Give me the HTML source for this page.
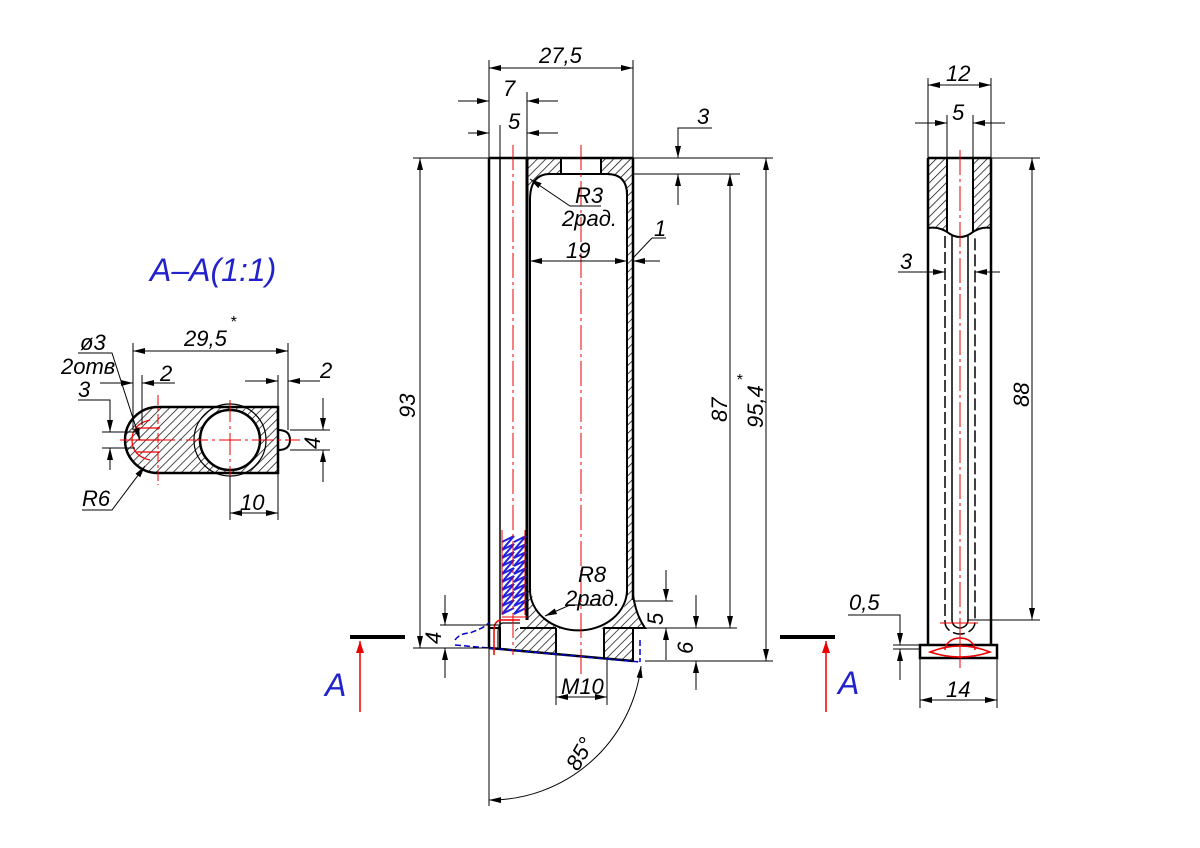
<!DOCTYPE html>
<html><head><meta charset="utf-8"><style>
html,body{margin:0;padding:0;background:#fff}
svg{display:block}
text{font-family:"Liberation Sans",sans-serif;font-style:italic;fill:#000}
</style></head><body>
<svg width="1200" height="848" viewBox="0 0 1200 848" xmlns="http://www.w3.org/2000/svg">
<defs>
<pattern id="h" patternUnits="userSpaceOnUse" width="6" height="6" patternTransform="rotate(45)">
<rect width="6" height="6" fill="#fff"/><line x1="0" y1="0" x2="0" y2="6" stroke="#000" stroke-width="1.4"/>
</pattern>
<marker id="a" markerWidth="12" markerHeight="6" refX="12" refY="3" orient="auto-start-reverse" markerUnits="userSpaceOnUse">
<path d="M0,0 L12,3 L0,6 z" fill="#000"/></marker>
<marker id="ar" markerWidth="12" markerHeight="8" refX="12" refY="4" orient="auto" markerUnits="userSpaceOnUse">
<path d="M0,0 L12,4 L0,8 z" fill="#e00"/></marker>
</defs>
<g stroke="#000" stroke-width="1" fill="none">

<!-- ========== MAIN VIEW ========== -->
<rect x="527" y="158" width="34" height="16" fill="url(#h)" stroke="none"/>
<rect x="601" y="158" width="32" height="16" fill="url(#h)" stroke="none"/>
<path d="M527,158 L527,200 Q530,176 545,174 L527,174z" fill="url(#h)" stroke="none"/>
<path d="M627,190 Q625,176 612,174 L633,174 L633,190z" fill="url(#h)" stroke="none"/>
<rect x="627" y="174" width="6" height="420" fill="url(#h)" stroke="none"/>
<!-- bottom block -->
<path d="M515,628 L556,628 L556,654 L515,650 z" fill="url(#h)" stroke="none"/>
<path d="M604,628 L633,628 L633,661 L604,658 z" fill="url(#h)" stroke="none"/>
<path d="M527,588 L531,588 L534,605 L541,617 L552,625 L566,629 L527,629 z" fill="url(#h)" stroke="none"/>
<path d="M627,590 L633,592 Q636,615 645,628 L596,629 L610,625 L620,617 L625,605 z" fill="url(#h)" stroke="none"/>

<line x1="489" y1="158" x2="489" y2="648" stroke-width="2.5"/>
<line x1="500" y1="158" x2="500" y2="628" stroke-width="1.5"/>
<line x1="527" y1="158" x2="527" y2="620" stroke-width="3"/>
<line x1="489" y1="158" x2="633" y2="158" stroke-width="2.5"/>
<line x1="633" y1="158" x2="633" y2="600" stroke-width="2.5"/>
<line x1="627" y1="190" x2="627" y2="595" stroke-width="2"/>
<path d="M530,200 Q530,174 550,174 L607,174 Q627,174 627,195" stroke-width="2"/>
<path d="M530,200 L530,590 A48,40 0 0 0 627,590" stroke-width="2"/>
<line x1="561" y1="158" x2="561" y2="174" stroke-width="2"/>
<line x1="601" y1="158" x2="601" y2="174" stroke-width="2"/>
<path d="M633,595 Q636,615 645,628 L604,628" stroke-width="2"/>
<line x1="520" y1="628" x2="556" y2="628" stroke-width="2"/>
<line x1="556" y1="628" x2="556" y2="655" stroke-width="2"/>
<line x1="604" y1="628" x2="604" y2="658" stroke-width="2"/>
<line x1="633" y1="628" x2="633" y2="662" stroke-width="2"/>
<line x1="489" y1="648" x2="633" y2="661" stroke-width="2.5"/>
<path d="M489,628 L500,628 L500,648" stroke-width="2"/>
<path d="M455,640 Q460,633 470,633 L482,628 L489,623" stroke="#00c" stroke-width="1.5" stroke-dasharray="6,3"/>
<line x1="455" y1="645" x2="489" y2="648" stroke="#00c" stroke-width="1.5" stroke-dasharray="6,3"/>
<line x1="489" y1="648" x2="640" y2="662" stroke="#00c" stroke-width="1.5" stroke-dasharray="6,3"/>
<line x1="640" y1="640" x2="640" y2="662" stroke="#00c" stroke-width="1.5" stroke-dasharray="6,3"/>
<!-- spring -->
<rect x="502" y="535" width="23" height="82" fill="#fff" stroke="none"/>
<path d="M502,542 L514,536 L502,550 L514,544 L502,558 L514,552 L502,566 L514,560 L502,574 L514,568 L502,582 L514,576 L502,590 L514,584 L502,598 L514,592 L502,606 L514,600 L502,614 L514,608" stroke="#22d" stroke-width="2"/>
<path d="M514,542 L526,536 L514,550 L526,544 L514,558 L526,552 L514,566 L526,560 L514,574 L526,568 L514,582 L526,576 L514,590 L526,584 L514,598 L526,592 L514,606 L526,600 L514,614 L526,608" stroke="#22d" stroke-width="2"/>
<line x1="502" y1="530" x2="502" y2="615" stroke="#e00" stroke-width="1"/>
<line x1="525" y1="530" x2="525" y2="615" stroke="#e00" stroke-width="1"/>
<line x1="502" y1="617" x2="527" y2="617" stroke="#e00"/>
<path d="M520,620 L500,620 Q494,622 494,630 L494,655" stroke="#e00" stroke-width="1.5"/>
<path d="M520,623 L502,623 Q498,625 498,632 L498,650" stroke="#000" stroke-width="1.2"/>
<line x1="513" y1="145" x2="513" y2="655" stroke="#e00" stroke-dasharray="25,4,3,4"/>
<line x1="581" y1="145" x2="581" y2="675" stroke="#e00" stroke-dasharray="25,4,3,4"/>

<line x1="489" y1="60" x2="489" y2="158"/>
<line x1="633" y1="60" x2="633" y2="158"/>
<line x1="489" y1="68" x2="633" y2="68" marker-start="url(#a)" marker-end="url(#a)"/>
<line x1="527" y1="92" x2="527" y2="158"/>
<line x1="458" y1="101" x2="489" y2="101" marker-end="url(#a)"/>
<line x1="558" y1="101" x2="527" y2="101" marker-end="url(#a)"/>
<line x1="500" y1="125" x2="500" y2="158"/>
<line x1="468" y1="133" x2="489" y2="133" marker-end="url(#a)"/>
<line x1="558" y1="133" x2="527" y2="133" marker-end="url(#a)"/>
<line x1="413" y1="158" x2="773" y2="158"/>
<line x1="633" y1="174" x2="740" y2="174"/>
<path d="M712,128 L678,128 L678,158" marker-end="url(#a)"/>
<line x1="678" y1="205" x2="678" y2="174" marker-end="url(#a)"/>
<line x1="420" y1="158" x2="420" y2="648" marker-start="url(#a)" marker-end="url(#a)"/>
<line x1="413" y1="648" x2="489" y2="648"/>
<line x1="730" y1="174" x2="730" y2="628" marker-start="url(#a)" marker-end="url(#a)"/>
<line x1="645" y1="628" x2="737" y2="628"/>
<line x1="766" y1="158" x2="766" y2="661" marker-start="url(#a)" marker-end="url(#a)"/>
<line x1="645" y1="661" x2="773" y2="661"/>
<line x1="530" y1="261" x2="627" y2="261" marker-start="url(#a)" marker-end="url(#a)"/>
<line x1="660" y1="261" x2="633" y2="261" marker-end="url(#a)"/>
<line x1="633" y1="258" x2="652" y2="238"/><line x1="652" y1="238" x2="666" y2="238"/>
<path d="M601,206 L570,206 L530,179" marker-end="url(#a)"/>
<path d="M602,605 L570,605 L545,616" marker-end="url(#a)"/>
<line x1="633" y1="601" x2="673" y2="601"/>
<line x1="666" y1="570" x2="666" y2="601" marker-end="url(#a)"/>
<line x1="666" y1="660" x2="666" y2="628" marker-end="url(#a)"/>
<line x1="696" y1="595" x2="696" y2="628" marker-end="url(#a)"/>
<line x1="696" y1="690" x2="696" y2="661" marker-end="url(#a)"/>
<line x1="440" y1="625" x2="500" y2="625"/>
<line x1="445" y1="595" x2="445" y2="625" marker-end="url(#a)"/>
<line x1="445" y1="678" x2="445" y2="648" marker-end="url(#a)"/>
<line x1="556" y1="655" x2="556" y2="705"/>
<line x1="607" y1="660" x2="607" y2="705"/>
<line x1="556" y1="697" x2="607" y2="697" marker-start="url(#a)" marker-end="url(#a)"/>
<line x1="489" y1="648" x2="489" y2="806"/>
<path d="M641,666 A152,152 0 0 1 489,800" marker-start="url(#a)" marker-end="url(#a)"/>

<line x1="350" y1="637" x2="405" y2="637" stroke-width="4"/>
<line x1="780" y1="637" x2="835" y2="637" stroke-width="4"/>
<line x1="360" y1="712" x2="360" y2="641" stroke="#e00" stroke-width="1.5" marker-end="url(#ar)"/>
<line x1="826" y1="712" x2="826" y2="641" stroke="#e00" stroke-width="1.5" marker-end="url(#ar)"/>

<!-- ========== RIGHT VIEW ========== -->
<path d="M928,158 L947,158 L947,232 Q940,226 928,228z" fill="url(#h)" stroke="none"/>
<path d="M973,158 L991,158 L991,228 Q980,226 973,232z" fill="url(#h)" stroke="none"/>
<line x1="928" y1="158" x2="991" y2="158" stroke-width="2.5"/>
<line x1="928" y1="158" x2="928" y2="645" stroke-width="2.5"/>
<line x1="991" y1="158" x2="991" y2="645" stroke-width="2.5"/>
<line x1="947" y1="158" x2="947" y2="232" stroke-width="2"/>
<line x1="973" y1="158" x2="973" y2="232" stroke-width="2"/>
<path d="M928,228 Q940,226 950,234 Q960,240 970,234 Q980,226 991,228" stroke-width="2"/>
<path d="M952,236 L952,620 A8,8 0 0 0 968,620 L968,236" stroke-width="1.5"/>
<path d="M945,236 L945,622 A15,12 0 0 0 975,622 L975,236" stroke-width="1.5" stroke-dasharray="12,4"/>
<line x1="960" y1="150" x2="960" y2="665" stroke="#e00" stroke-dasharray="25,4,3,4"/>
<line x1="940" y1="623" x2="978" y2="623" stroke="#e00"/>
<rect x="920" y="645" width="77" height="13" stroke-width="2.5" fill="#fff"/>
<path d="M930,652 Q960,640 990,652 Q960,662 930,652z" stroke="#e00" stroke-width="1.5"/>
<path d="M945,650 A15,12 0 0 1 975,650" stroke="#e00" stroke-width="1.5"/>
<line x1="960" y1="636" x2="960" y2="668" stroke="#e00"/>
<line x1="928" y1="78" x2="928" y2="158"/>
<line x1="991" y1="78" x2="991" y2="158"/>
<line x1="928" y1="85" x2="991" y2="85" marker-start="url(#a)" marker-end="url(#a)"/>
<line x1="947" y1="115" x2="947" y2="158"/>
<line x1="973" y1="115" x2="973" y2="158"/>
<line x1="915" y1="123" x2="947" y2="123" marker-end="url(#a)"/>
<line x1="1005" y1="123" x2="973" y2="123" marker-end="url(#a)"/>
<line x1="898" y1="272" x2="945" y2="272" marker-end="url(#a)"/>
<line x1="1000" y1="272" x2="975" y2="272" marker-end="url(#a)"/>
<line x1="991" y1="158" x2="1040" y2="158"/>
<line x1="968" y1="620" x2="1040" y2="620"/>
<line x1="1032" y1="158" x2="1032" y2="620" marker-start="url(#a)" marker-end="url(#a)"/>
<path d="M848,615 L900,615 L900,645" marker-end="url(#a)"/>
<line x1="900" y1="680" x2="900" y2="649" marker-end="url(#a)"/>
<line x1="893" y1="645" x2="920" y2="645"/><line x1="893" y1="649" x2="920" y2="649"/>
<line x1="920" y1="658" x2="920" y2="708"/>
<line x1="997" y1="658" x2="997" y2="708"/>
<line x1="920" y1="700" x2="997" y2="700" marker-start="url(#a)" marker-end="url(#a)"/>

<!-- ========== SECTION A-A ========== -->
<path d="M158,407 L278,407 L278,473 L158,473 A33,33 0 0 1 158,407z" fill="url(#h)" stroke-width="2.5"/>
<circle cx="230" cy="440" r="36" fill="none" stroke-width="1.2"/>
<circle cx="230" cy="440" r="30" fill="#fff" stroke-width="2.5"/>
<path d="M278,430 Q290,430 290,440 Q290,450 278,450" stroke-width="2"/>
<path d="M150,420 Q132,424 132,440 Q132,456 150,460" stroke="#e00" stroke-width="1.2"/>
<path d="M136,428 L160,428 M136,440 L160,440 M136,452 L160,452" stroke="#e00" stroke-width="1.2"/>
<line x1="158" y1="395" x2="158" y2="485" stroke="#e00" stroke-dasharray="10,3,3,3"/>
<line x1="120" y1="440" x2="300" y2="440" stroke="#e00" stroke-dasharray="22,4,3,4"/>
<line x1="230" y1="400" x2="230" y2="482" stroke="#e00" stroke-dasharray="22,4,3,4"/>
<line x1="133" y1="343" x2="133" y2="430"/>
<line x1="288" y1="343" x2="288" y2="430"/>
<line x1="133" y1="351" x2="288" y2="351" marker-start="url(#a)" marker-end="url(#a)"/>
<line x1="142" y1="375" x2="142" y2="425"/>
<line x1="100" y1="383" x2="133" y2="383" marker-end="url(#a)"/>
<line x1="175" y1="383" x2="142" y2="383" marker-end="url(#a)"/>
<line x1="278" y1="375" x2="278" y2="407"/>
<line x1="245" y1="381" x2="278" y2="381" marker-end="url(#a)"/>
<line x1="320" y1="381" x2="288" y2="381" marker-end="url(#a)"/>
<line x1="290" y1="430" x2="330" y2="430"/><line x1="290" y1="450" x2="330" y2="450"/>
<line x1="323" y1="398" x2="323" y2="430" marker-end="url(#a)"/>
<line x1="323" y1="482" x2="323" y2="450" marker-end="url(#a)"/>
<path d="M78,400 L110,400 L110,432" marker-end="url(#a)"/>
<line x1="110" y1="470" x2="110" y2="448" marker-end="url(#a)"/>
<line x1="102" y1="432" x2="135" y2="432"/><line x1="102" y1="448" x2="135" y2="448"/>
<path d="M78,353 L112,353 L140,440" marker-end="url(#a)"/>
<path d="M82,510 L112,510 L145,466" marker-end="url(#a)"/>
<line x1="230" y1="476" x2="230" y2="520"/>
<line x1="278" y1="473" x2="278" y2="520"/>
<line x1="230" y1="513" x2="278" y2="513" marker-start="url(#a)" marker-end="url(#a)"/>
</g>

<g font-size="22">
<text x="539" y="63">27,5</text>
<text x="503" y="96">7</text>
<text x="508" y="129">5</text>
<text x="697" y="124">3</text>
<text x="575" y="203">R3</text>
<text x="562" y="226">2рад.</text>
<text x="566" y="258">19</text>
<text x="654" y="236">1</text>
<text x="578" y="582">R8</text>
<text x="565" y="606">2рад.</text>
<text x="561" y="694">M10</text>
<text transform="translate(578,772) rotate(-60)">85°</text>
<text transform="translate(415,418) rotate(-90)">93</text>
<text transform="translate(727,422) rotate(-90)">87</text>
<text transform="translate(763,428) rotate(-90)">95,4</text>
<text x="736" y="385" font-size="16">*</text>
<text transform="translate(663,625) rotate(-90)">5</text>
<text transform="translate(693,654) rotate(-90)">6</text>
<text transform="translate(441,644) rotate(-90)">4</text>
<text x="946" y="81">12</text>
<text x="952" y="120">5</text>
<text x="900" y="269">3</text>
<text transform="translate(1029,407) rotate(-90)">88</text>
<text x="849" y="610">0,5</text>
<text x="946" y="697">14</text>
<text x="184" y="346">29,5</text>
<text x="230" y="327" font-size="16">*</text>
<text x="80" y="350">ø3</text>
<text x="61" y="374">2отв</text>
<text x="78" y="397">3</text>
<text x="160" y="381">2</text>
<text x="320" y="378">2</text>
<text transform="translate(320,449) rotate(-90)">4</text>
<text x="240" y="510">10</text>
<text x="82" y="506">R6</text>
</g>
<g font-size="32">
<text x="150" y="281" style="fill:#22c">A–A(1:1)</text>
<text x="325" y="696" style="fill:#22c">A</text>
<text x="838" y="694" style="fill:#22c">A</text>
</g>
</svg>
</body></html>
